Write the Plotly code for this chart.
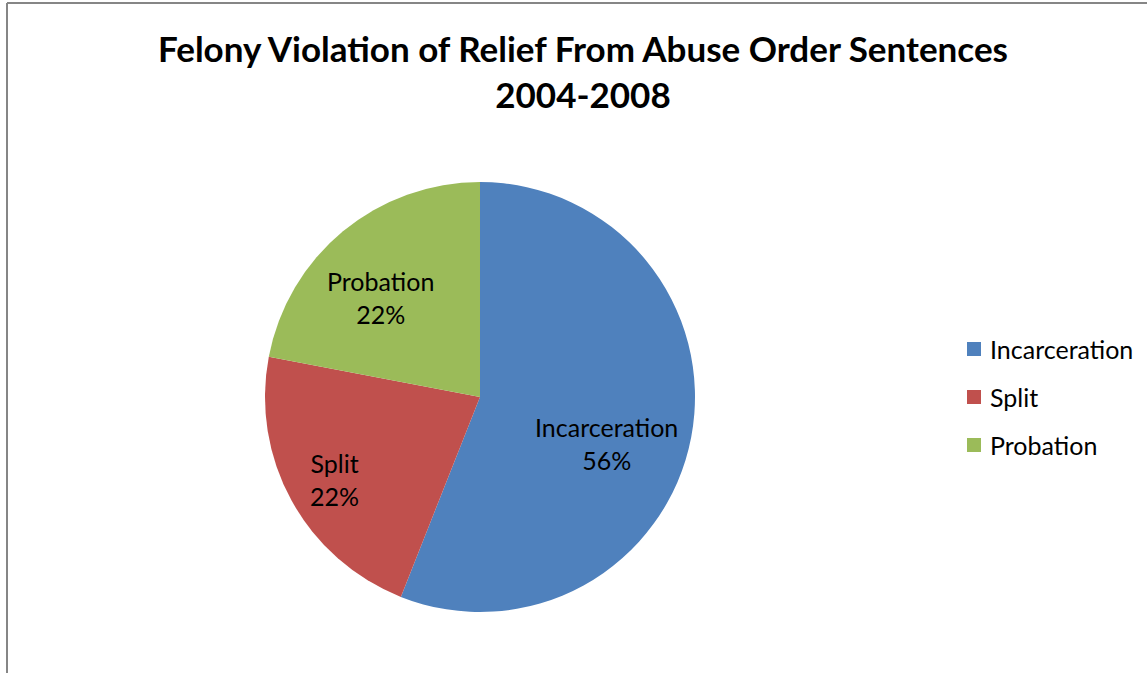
import plotly.graph_objects as go

# Sentence type shares, 2004-2008
categories = ["Incarceration", "Split", "Probation"]
shares = [56, 22, 22]
colors = ["#4F81BD", "#C0504D", "#9BBB59"]

W, H = 1147, 673
FONT = "Lato"


def px(x):
    return x / W


def py(y):
    return 1 - y / H


fig = go.Figure(
    go.Pie(
        labels=categories,
        values=shares,
        marker=dict(colors=colors, line=dict(width=0)),
        sort=False,
        direction="clockwise",
        rotation=0,
        textinfo="none",
        hoverinfo="label+percent",
        showlegend=False,
        domain=dict(x=[px(265), px(695)], y=[py(612), py(182)]),
    )
)

# In-slice labels (category name over rounded percent)
total = sum(shares)
label_pos = {"Incarceration": (606, 443), "Split": (334, 479), "Probation": (380, 297)}
annotations = []
for name, v in zip(categories, shares):
    x, y = label_pos[name]
    annotations.append(
        dict(
            x=px(x), y=py(y), xref="paper", yref="paper",
            xanchor="center", yanchor="middle",
            text=f"{name}<br>{round(100 * v / total)}%",
            showarrow=False, align="center",
            font=dict(family=FONT, size=25, color="#000000"),
        )
    )

# Legend drawn as swatches plus text
shapes = []
for i, (name, c) in enumerate(zip(categories, colors)):
    yc = 349 + 48 * i
    shapes.append(
        dict(type="rect", xref="paper", yref="paper",
             x0=px(967), x1=px(981), y0=py(yc + 7), y1=py(yc - 7),
             fillcolor=c, line=dict(width=0))
    )
    annotations.append(
        dict(x=px(988), y=py(yc), xref="paper", yref="paper",
             xanchor="left", yanchor="middle", text=name, showarrow=False,
             font=dict(family=FONT, size=25, color="#000000"))
    )

# Chart frame edges
shapes.append(dict(type="line", xref="paper", yref="paper",
                   x0=px(7), x1=px(7), y0=0, y1=py(3),
                   line=dict(color="#868686", width=2)))
shapes.append(dict(type="line", xref="paper", yref="paper",
                   x0=px(7), x1=1, y0=py(3), y1=py(3),
                   line=dict(color="#868686", width=2)))

# Title
annotations.append(
    dict(x=px(583), y=py(71), xref="paper", yref="paper",
         text="<b>Felony Violation of Relief From Abuse Order Sentences<br>2004-2008</b>",
         showarrow=False, align="center", xanchor="center", yanchor="middle",
         font=dict(family=FONT, size=35, color="#000000"))
)

fig.update_layout(
    width=W, height=H,
    margin=dict(l=0, r=0, t=0, b=0),
    paper_bgcolor="white",
    plot_bgcolor="white",
    annotations=annotations,
    shapes=shapes,
)

fig.write_html("out.html")
